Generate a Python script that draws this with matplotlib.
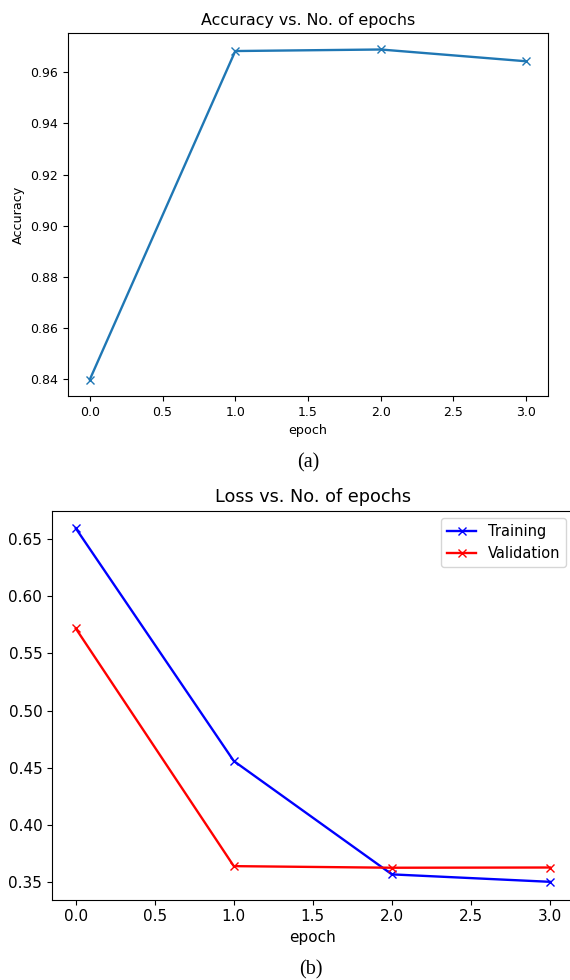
import numpy as np
import matplotlib
matplotlib.use('Agg')
from matplotlib import pyplot as plt

# values
epochs = [0, 1, 2, 3]
accuracy = [0.8399, 0.9683, 0.9689, 0.9643]
train_loss = [0.6594, 0.4560, 0.3570, 0.3505]
val_loss = [0.5719, 0.3642, 0.3628, 0.3630]

fig = plt.figure(figsize=(5.7, 9.8), dpi=100)

# (a) accuracy
ax1 = fig.add_axes([68 / 570, 1 - 396 / 980, 480 / 570, 363 / 980])
ax1.plot(epochs, accuracy, '-x', color='C0', lw=1.7)
ax1.set_title('Accuracy vs. No. of epochs', fontsize=11.4)
ax1.set_xlabel('epoch', fontsize=9.2)
ax1.set_ylabel('Accuracy', fontsize=9.2)
ax1.tick_params(labelsize=9)
ax1.set_xticks(np.arange(0, 3.01, 0.5))

# (b) loss, the original was scaled up and cropped at both sides
ax2 = fig.add_axes([52 / 570, 1 - 899.5 / 980, 521.7 / 570, 389 / 980])
ax2.plot(epochs, train_loss, '-bx', label='Training', lw=1.7)
ax2.plot(epochs, val_loss, '-rx', label='Validation', lw=1.7)
ax2.set_title('Loss vs. No. of epochs', fontsize=12.7)
ax2.set_xlabel('epoch', fontsize=11)
ax2.set_ylabel('Loss', fontsize=11)
ax2.tick_params(labelsize=11)
ax2.set_xticks(np.arange(0, 3.01, 0.5))
ax2.legend(loc='upper right', fontsize=10.5)

# captions
fig.text(308 / 570, 1 - 463 / 980, '(a)', ha='center', va='center',
         family='Liberation Serif', fontsize=14.5)
fig.text(311 / 570, 1 - 970 / 980, '(b)', ha='center', va='center',
         family='Liberation Serif', fontsize=14.5)

fig.savefig('out.png', dpi=100)
